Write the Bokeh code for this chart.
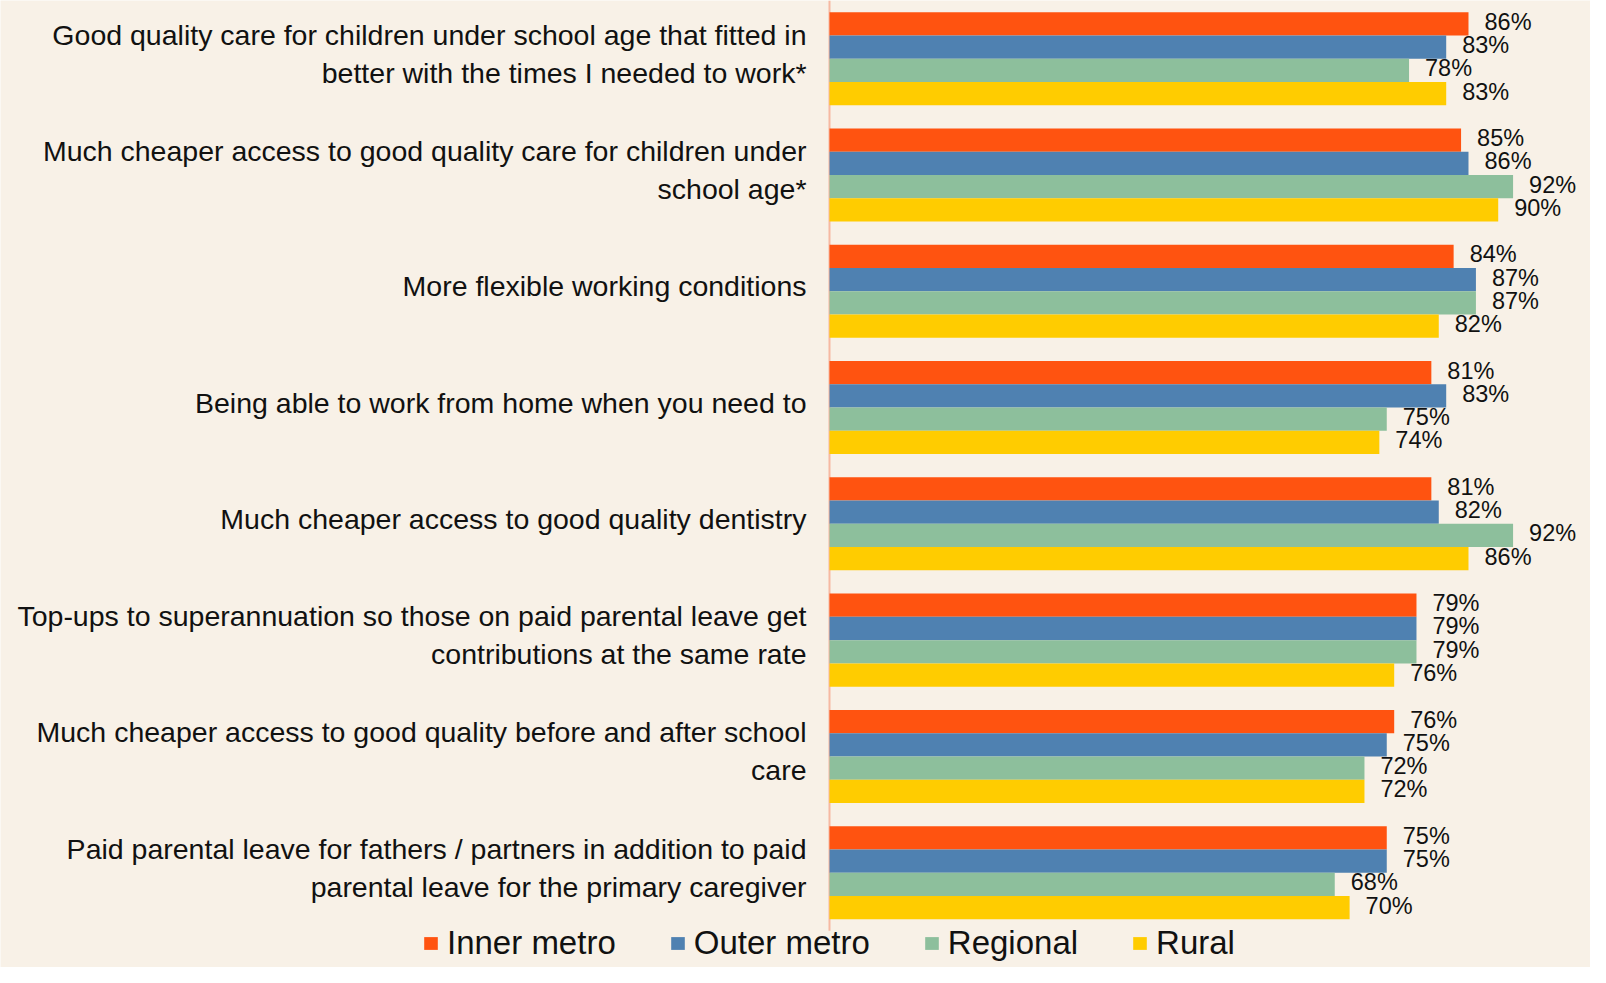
from bokeh.plotting import figure
from bokeh.models import ColumnDataSource, Range1d, Legend, LegendItem
from bokeh.core.properties import value
from bokeh.embed import file_html
from bokeh.resources import INLINE

categories = [
    "Good quality care for children under school age that fitted in\nbetter with the times I needed to work*",
    "Much cheaper access to good quality care for children under\nschool age*",
    "More flexible working conditions",
    "Being able to work from home when you need to",
    "Much cheaper access to good quality dentistry",
    "Top-ups to superannuation so those on paid parental leave get\ncontributions at the same rate",
    "Much cheaper access to good quality before and after school\ncare",
    "Paid parental leave for fathers / partners in addition to paid\nparental leave for the primary caregiver",
]
series = ["Inner metro", "Outer metro", "Regional", "Rural"]
inner_metro = [86, 85, 84, 81, 81, 79, 76, 75]
outer_metro = [83, 86, 87, 83, 82, 79, 75, 75]
regional = [78, 92, 87, 75, 92, 79, 72, 68]
rural = [83, 90, 82, 74, 86, 76, 72, 70]

colors = ["#FF5310", "#4F81B1", "#8DBF9C", "#FFCC00"]
BG = "#F8F1E7"
FONT = "Liberation Sans"
TXT = "#111111"

p = figure(width=1590, height=967, output_backend="svg", toolbar_location=None,
           x_range=Range1d(-111.57, 102.42), y_range=Range1d(7.815, -0.5),
           x_axis_location=None, y_axis_location=None, min_border=0)
p.xgrid.visible = False
p.ygrid.visible = False
p.outline_line_color = None
p.background_fill_color = BG
p.border_fill_color = BG

# axis line
p.segment(x0=0, y0=-0.5, x1=0, y1=len(categories) - 0.5,
          line_color="#F6B9A2", line_width=2)

offsets = [-0.3, -0.1, 0.1, 0.3]
items = []
for name, vals, col, off in zip(series, [inner_metro, outer_metro, regional, rural], colors, offsets):
    src = ColumnDataSource(dict(
        y=[i + off for i in range(len(categories))],
        v=vals,
        lab=[f"{v}%" for v in vals],
    ))
    r = p.hbar(y="y", left=0, right="v", height=0.2, fill_color=col, line_color=None, source=src)
    p.text(x="v", y="y", text="lab", source=src, x_offset=16, y_offset=-2,
           text_align="left", text_baseline="middle",
           text_font=value(FONT), text_font_size="23.5px", text_color=TXT)
    items.append(LegendItem(label=name, renderers=[r]))

# category labels (right aligned, left of the axis)
ly, loff, ltxt = [], [], []
for i, c in enumerate(categories):
    lines = c.split("\n")
    n = len(lines)
    for j, t in enumerate(lines):
        ly.append(i)
        ltxt.append(t)
        loff.append((j - (n - 1) / 2) * 38 - 5)
lsrc = ColumnDataSource(dict(y=ly, t=ltxt, off=loff))
p.text(x=0, y="y", text="t", source=lsrc, x_offset=-23, y_offset="off",
       text_align="right", text_baseline="middle",
       text_font=value(FONT), text_font_size="28.5px", text_color=TXT)

legend = Legend(items=items, orientation="horizontal", location=(422, 5),
                glyph_width=17, glyph_height=16, label_standoff=8, spacing=53,
                padding=0, margin=0, label_text_font=FONT, label_text_font_size="33px",
                label_text_color=TXT, background_fill_alpha=0, border_line_color=None)
p.add_layout(legend)

open("out.html", "w").write(file_html(p, INLINE))
